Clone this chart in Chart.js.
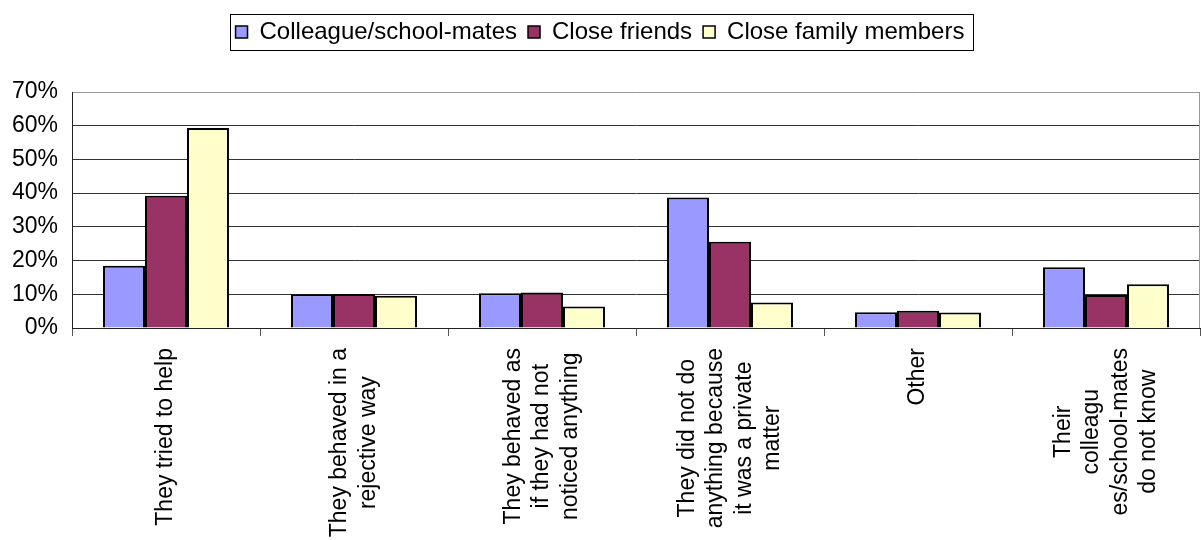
<!DOCTYPE html>
<html lang="en">
<head>
    <meta charset="UTF-8">
    <title>Reactions of others</title>
    <style>
        body, html {
            margin: 0;
            padding: 0;
            background: #fff;
        }
        .chart-container {
            width: 1201px;
            height: 540px;
        }
    </style>
    <script src="https://cdn.jsdelivr.net/npm/chart.js"></script>
</head>
<body>
    <div class="chart-container">
        <canvas id="reactChart"></canvas>
    </div>

    <script>
        const categories = [
            'They tried to help',
            ['They behaved in a', 'rejective way'],
            ['They behaved as', 'if they had not', 'noticed anything'],
            ['They did not do', 'anything because', 'it was a private', 'matter'],
            'Other',
            ['Their', 'colleagu', 'es/school-mates', 'do not know']
        ];
        const seriesNames = ['Colleague/school-mates', 'Close friends', 'Close family members'];
        const colleagues = [18.5, 10.0, 10.3, 38.7, 4.7, 18.0];
        const friends = [39.2, 10.1, 10.5, 25.6, 5.1, 9.8];
        const family = [59.3, 9.6, 6.4, 7.6, 4.6, 13.0];
        const yTicks = [0, 10, 20, 30, 40, 50, 60, 70];

        const font = 'Arial, "Liberation Sans", sans-serif';
        const colors = ['#9999ff', '#993366', '#ffffcc'];

        // extra space between legend and plot
        const legendGap = {
            id: 'legendGap',
            afterInit(chart) {
                const legend = chart.legend;
                const fit = legend.fit;
                legend.fit = function () {
                    fit.call(this);
                    this.height += 38;
                };
            }
        };

        // rotated category labels: block starts under the axis, lines centred
        const catLabels = {
            id: 'catLabels',
            afterDraw(chart) {
                const c = chart.ctx;
                const x = chart.scales.x;
                const lineH = 28.5;
                c.save();
                c.font = '23px ' + font;
                c.fillStyle = '#000';
                c.textAlign = 'center';
                c.textBaseline = 'middle';
                categories.forEach((lab, i) => {
                    const lines = Array.isArray(lab) ? lab : [lab];
                    const w = Math.max(...lines.map(l => c.measureText(l).width));
                    const px = x.getPixelForTick(i);
                    c.save();
                    c.translate(px, x.top + 20 + w / 2);
                    c.rotate(-Math.PI / 2);
                    lines.forEach((l, j) => {
                        c.fillText(l, 0, (j - (lines.length - 1) / 2) * lineH);
                    });
                    c.restore();
                });
                c.restore();
            }
        };

        // legend frame + right edge of the plot
        const framePlugin = {
            id: 'frames',
            afterDraw(chart) {
                const c = chart.ctx;
                const a = chart.chartArea;
                c.save();
                c.strokeStyle = '#999';
                c.lineWidth = 1;
                c.beginPath();
                c.moveTo(a.right - 0.5, a.top);
                c.lineTo(a.right - 0.5, a.bottom);
                c.stroke();

                const boxes = chart.legend.legendHitBoxes;
                if (boxes && boxes.length) {
                    const l = Math.min(...boxes.map(b => b.left)) - 6;
                    const r = Math.max(...boxes.map(b => b.left + b.width)) + 8;
                    const t = boxes[0].top - 6;
                    const h = boxes[0].height + 12;
                    c.strokeStyle = '#000';
                    c.strokeRect(Math.round(l) + 0.5, Math.round(t) + 0.5, Math.round(r - l), Math.round(h));
                }
                c.restore();
            }
        };

        const data = {
            labels: categories,
            datasets: [colleagues, friends, family].map((vals, i) => ({
                label: seriesNames[i],
                data: vals,
                backgroundColor: colors[i],
                borderColor: '#000',
                borderWidth: 2,
                categoryPercentage: 0.67,
                barPercentage: 1.0
            }))
        };

        const options = {
            responsive: true,
            maintainAspectRatio: false,
            animation: false,
            layout: {
                padding: { top: 9, right: 1, left: 0, bottom: 0 }
            },
            scales: {
                x: {
                    grid: {
                        offset: true,
                        drawOnChartArea: false,
                        drawTicks: true,
                        tickLength: 8,
                        color: '#555'
                    },
                    border: { color: '#222', width: 1 },
                    ticks: { display: false },
                    afterFit(scale) { scale.height = 212; }
                },
                y: {
                    min: 0,
                    max: 70,
                    afterBuildTicks(scale) {
                        scale.ticks = yTicks.map(v => ({ value: v }));
                    },
                    grid: {
                        drawTicks: false,
                        color: ctx => (ctx.tick && ctx.tick.value === 70) ? '#999' : '#333'
                    },
                    border: { color: '#222', width: 1 },
                    ticks: {
                        padding: 14,
                        color: '#000',
                        font: { family: font, size: 23 },
                        callback: v => v + '%'
                    },
                    afterFit(scale) { scale.width = 72; }
                }
            },
            plugins: {
                legend: {
                    position: 'top',
                    labels: {
                        color: '#000',
                        boxWidth: 12,
                        boxHeight: 12,
                        padding: 11,
                        font: { family: font, size: 24 },
                        generateLabels(chart) {
                            return chart.data.datasets.map((ds, i) => ({
                                text: ds.label,
                                fillStyle: ds.backgroundColor,
                                strokeStyle: '#000',
                                lineWidth: 1.5,
                                datasetIndex: i,
                                hidden: false
                            }));
                        }
                    }
                },
                tooltip: { enabled: false }
            }
        };

        new Chart(document.getElementById('reactChart'), {
            type: 'bar',
            data: data,
            options: options,
            plugins: [legendGap, catLabels, framePlugin]
        });
    </script>
</body>
</html>
